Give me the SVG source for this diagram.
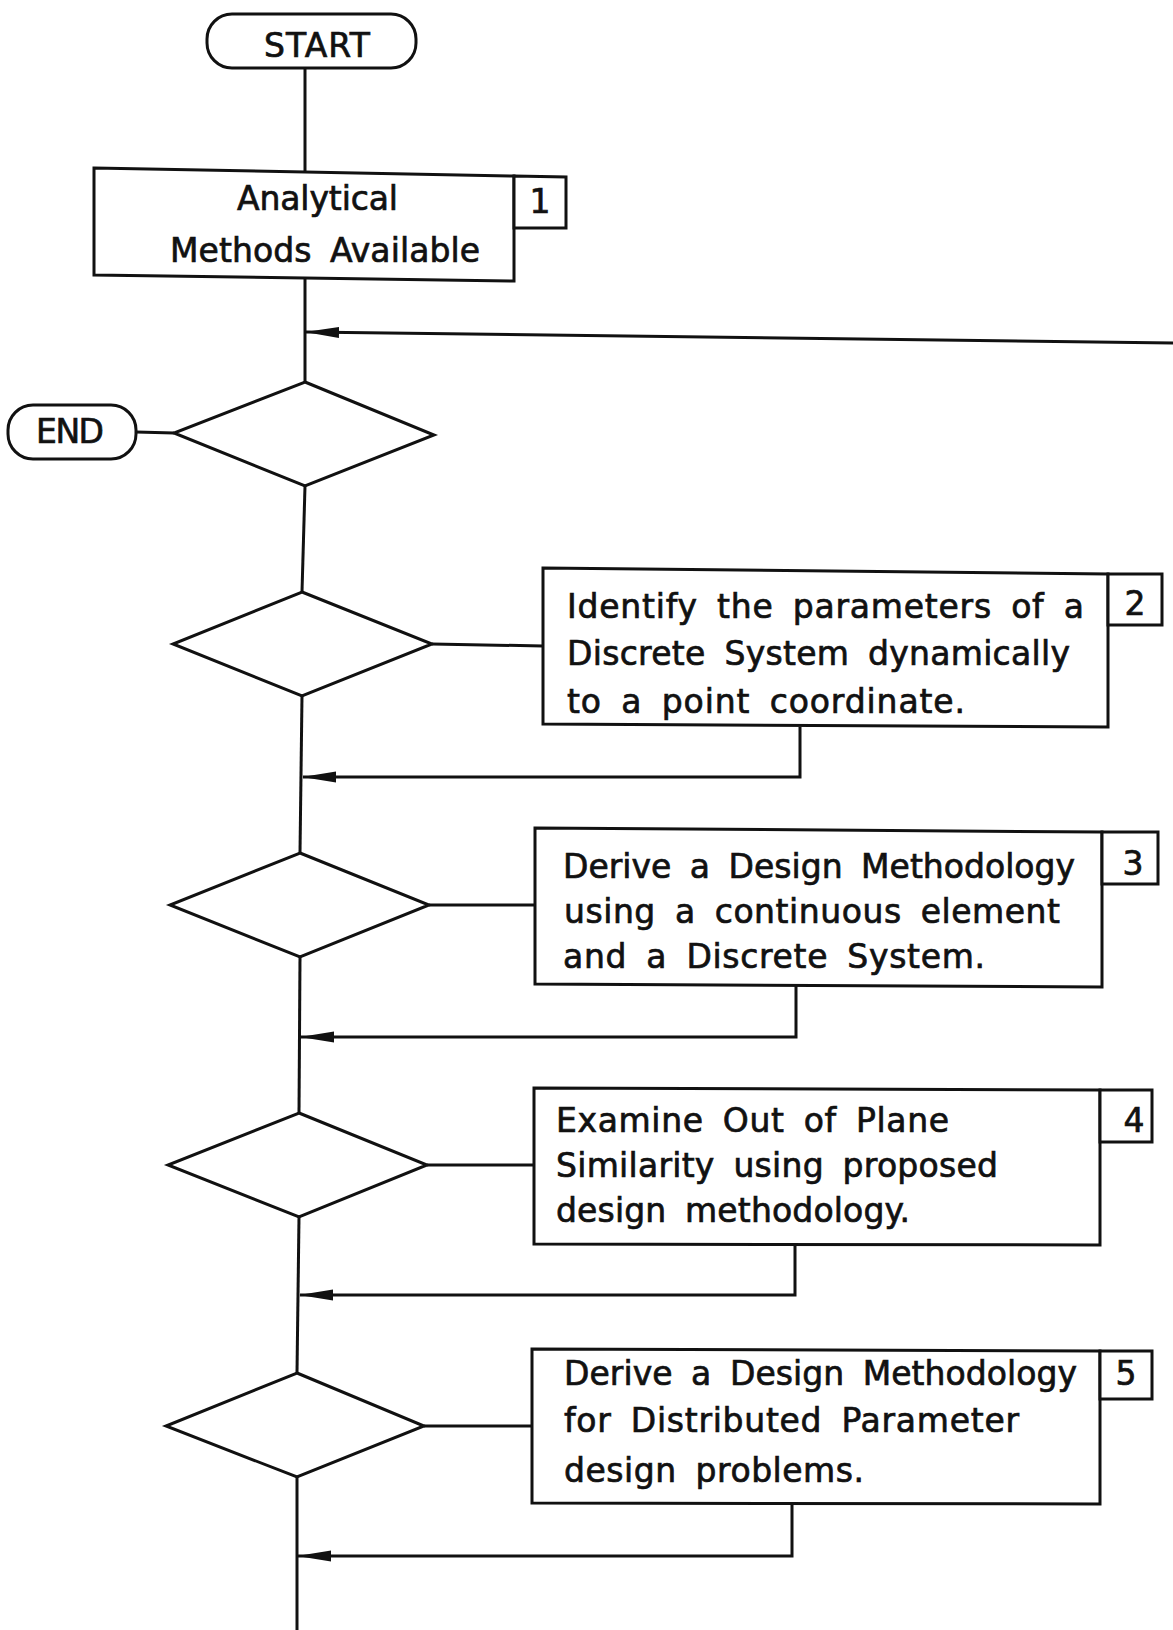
<svg xmlns="http://www.w3.org/2000/svg" width="1173" height="1630" viewBox="0 0 1173 1630">
<style>
.ln{fill:none;stroke:#111;stroke-width:3;stroke-linejoin:miter}
.sh{fill:#fff;stroke:#111;stroke-width:3;stroke-linejoin:miter}
.tx{font-family:"DejaVu Sans","Liberation Sans",sans-serif;font-size:33px;fill:#111;stroke:#111;stroke-width:0.7;word-spacing:8px}
.num{font-family:"DejaVu Sans","Liberation Sans",sans-serif;font-size:33px;fill:#111;stroke:#111;stroke-width:0.7;text-anchor:middle}
</style>
<defs>
<marker id="arr" markerUnits="userSpaceOnUse" viewBox="0 0 34 12" markerWidth="34" markerHeight="12" refX="33" refY="6" orient="auto">
<path d="M0,0.5 L34,6 L0,11.5 Z" fill="#111"/>
</marker>
</defs>
<rect width="1173" height="1630" fill="#fff"/>
<g id="connectors">
<path class="ln" d="M305,68 V172"/>
<path class="ln" d="M305,279 V382"/>
<path class="ln" d="M1173,343 L306,332" marker-end="url(#arr)"/>
<path class="ln" d="M136,432 L174,433"/>
<path class="ln" d="M305,486 L302,592"/>
<path class="ln" d="M302,696 L300,853"/>
<path class="ln" d="M432,644 L543,646"/>
<path class="ln" d="M800,727 V777 H303" marker-end="url(#arr)"/>
<path class="ln" d="M300,957 L299,1113"/>
<path class="ln" d="M429,905 L535,905"/>
<path class="ln" d="M796,986 V1037 H301" marker-end="url(#arr)"/>
<path class="ln" d="M299,1217 L297,1373"/>
<path class="ln" d="M427,1165 L534,1165"/>
<path class="ln" d="M795,1244 V1295 H300" marker-end="url(#arr)"/>
<path class="ln" d="M297,1477 V1630"/>
<path class="ln" d="M424,1426 L532,1426"/>
<path class="ln" d="M792,1503 V1556 H298" marker-end="url(#arr)"/>
</g>
<g id="start">
<rect class="sh" x="207" y="14" width="209" height="54" rx="25" ry="25"/>
<text class="tx" x="264" y="57" textLength="106" lengthAdjust="spacing">START</text>
</g>
<g id="box1">
<polygon class="sh" points="94,168 514,176 514,281 94,275"/>
<polygon class="sh" points="514,176 566,177 566,228 514,228"/>
<text class="tx" x="237" y="210" textLength="161" lengthAdjust="spacing">Analytical</text>
<text class="tx" x="170" y="262" textLength="310" lengthAdjust="spacing">Methods Available</text>
<text class="num" x="540" y="213">1</text>
</g>
<g id="decision1">
<polygon class="sh" points="305,382 434,435 305,486 174,433"/>
</g>
<g id="end">
<rect class="sh" x="8" y="405" width="128" height="54" rx="25" ry="25"/>
<text class="tx" x="36" y="443" textLength="68" lengthAdjust="spacing">END</text>
</g>
<g id="decision2">
<polygon class="sh" points="302,592 432,644 302,696 173,644"/>
</g>
<g id="box2">
<polygon class="sh" points="543,568 1108,574 1108,727 543,724"/>
<polygon class="sh" points="1108,574 1162,574 1162,625 1108,625"/>
<text class="tx" x="567" y="618" textLength="517" lengthAdjust="spacing">Identify the parameters of a</text>
<text class="tx" x="567" y="665" textLength="503" lengthAdjust="spacing">Discrete System dynamically</text>
<text class="tx" x="567" y="713" textLength="398" lengthAdjust="spacing">to a point coordinate.</text>
<text class="num" x="1135" y="615">2</text>
</g>
<g id="decision3">
<polygon class="sh" points="300,853 429,905 300,957 170,905"/>
</g>
<g id="box3">
<polygon class="sh" points="535,828 1102,832 1102,987 535,984"/>
<polygon class="sh" points="1102,832 1158,832 1158,884 1102,884"/>
<text class="tx" x="563" y="878" textLength="512" lengthAdjust="spacing">Derive a Design Methodology</text>
<text class="tx" x="564" y="923" textLength="496" lengthAdjust="spacing">using a continuous element</text>
<text class="tx" x="563" y="968" textLength="422" lengthAdjust="spacing">and a Discrete System.</text>
<text class="num" x="1133" y="875">3</text>
</g>
<g id="decision4">
<polygon class="sh" points="299,1113 427,1165 299,1217 168,1165"/>
</g>
<g id="box4">
<polygon class="sh" points="534,1088 1100,1090 1100,1245 534,1244"/>
<polygon class="sh" points="1100,1090 1152,1090 1152,1142 1100,1142"/>
<text class="tx" x="556" y="1132" textLength="393" lengthAdjust="spacing">Examine Out of Plane</text>
<text class="tx" x="556" y="1177" textLength="442" lengthAdjust="spacing">Similarity using proposed</text>
<text class="tx" x="556" y="1222" textLength="354" lengthAdjust="spacing">design methodology.</text>
<text class="num" x="1134" y="1132">4</text>
</g>
<g id="decision5">
<polygon class="sh" points="297,1373 424,1426 297,1477 166,1426"/>
</g>
<g id="box5">
<polygon class="sh" points="532,1349 1100,1351 1100,1504 532,1503"/>
<polygon class="sh" points="1100,1351 1152,1351 1152,1399 1100,1399"/>
<text class="tx" x="564" y="1385" textLength="513" lengthAdjust="spacing">Derive a Design Methodology</text>
<text class="tx" x="564" y="1432" textLength="455" lengthAdjust="spacing">for Distributed Parameter</text>
<text class="tx" x="564" y="1482" textLength="300" lengthAdjust="spacing">design problems.</text>
<text class="num" x="1126" y="1385">5</text>
</g>
</svg>
